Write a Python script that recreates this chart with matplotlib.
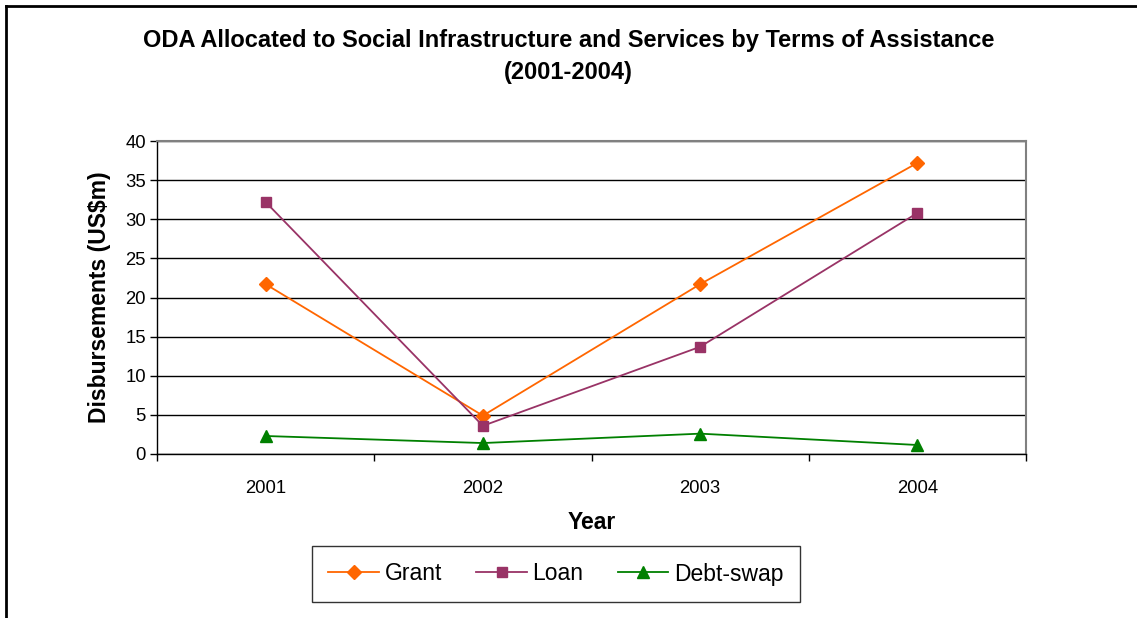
import matplotlib
matplotlib.use("Agg")
import matplotlib.pyplot as plt
from matplotlib.lines import Line2D

plt.rcParams['font.family'] = ['Liberation Sans', 'DejaVu Sans']

years = ['2001', '2002', '2003', '2004']
grant = [21.7, 4.9, 21.7, 37.2]
loan = [32.2, 3.6, 13.7, 30.8]
debt_swap = [2.3, 1.4, 2.6, 1.15]

fig = plt.figure(figsize=(11.37, 6.18), dpi=100)
ax = fig.add_axes([157/1137, 1 - 454/618, 869/1137, 313/618])

x = list(range(1, len(years) + 1))
ax.plot(x, grant, color='#FF6600', marker='D', markersize=7, lw=1.3, label='Grant', zorder=3)
ax.plot(x, loan, color='#993366', marker='s', markersize=7, lw=1.3, label='Loan', zorder=3)
ax.plot(x, debt_swap, color='#008000', marker='^', markersize=9, lw=1.3, label='Debt-swap', zorder=3)

ax.set_xlim(0.5, len(years) + 0.5)
ax.set_ylim(0, 40)
ax.set_yticks(range(0, 41, 5))
ax.set_xticks([i + 0.5 for i in range(len(years) + 1)])
ax.set_xticklabels([])
ax.set_xticks(x, minor=True)
ax.set_xticklabels(years, minor=True)
ax.tick_params(axis='x', which='minor', length=0, pad=19, labelsize=13.3)
ax.tick_params(axis='x', which='major', length=5, direction='out', width=1)
ax.tick_params(axis='y', length=5, direction='out', width=1, labelsize=13.3, pad=3)

ax.yaxis.grid(True, color='black', lw=1)
ax.set_axisbelow(True)
for s in ['top', 'right']:
    ax.spines[s].set_color('#808080')
    ax.spines[s].set_linewidth(1.5)
for s in ['left', 'bottom']:
    ax.spines[s].set_color('black')
    ax.spines[s].set_linewidth(1)

ax.set_xlabel('Year', fontsize=16.5, fontweight='bold', labelpad=10)
ax.set_ylabel('Disbursements (US$m)', fontsize=16.5, fontweight='bold', labelpad=10)

fig.text(0.5, 1 - 40/618, 'ODA Allocated to Social Infrastructure and Services by Terms of Assistance',
         ha='center', va='center', fontsize=17, fontweight='bold')
fig.text(0.5, 1 - 73/618, '(2001-2004)', ha='center', va='center', fontsize=17, fontweight='bold')

leg = fig.legend(loc='center', bbox_to_anchor=(556/1137, 1 - 574/618), ncol=3, fontsize=16.5,
                 frameon=True, fancybox=False, edgecolor='black', handlelength=2.2,
                 columnspacing=1.5, handletextpad=0.25, borderpad=0.7)
leg.get_frame().set_linewidth(1)

# outer chart border
fig.add_artist(Line2D([6/1137, 6/1137], [0, 1 - 6/618], color='black', lw=2, transform=fig.transFigure))
fig.add_artist(Line2D([6/1137, 1], [1 - 6/618, 1 - 6/618], color='black', lw=2, transform=fig.transFigure))

fig.savefig('out.png', dpi=100)
